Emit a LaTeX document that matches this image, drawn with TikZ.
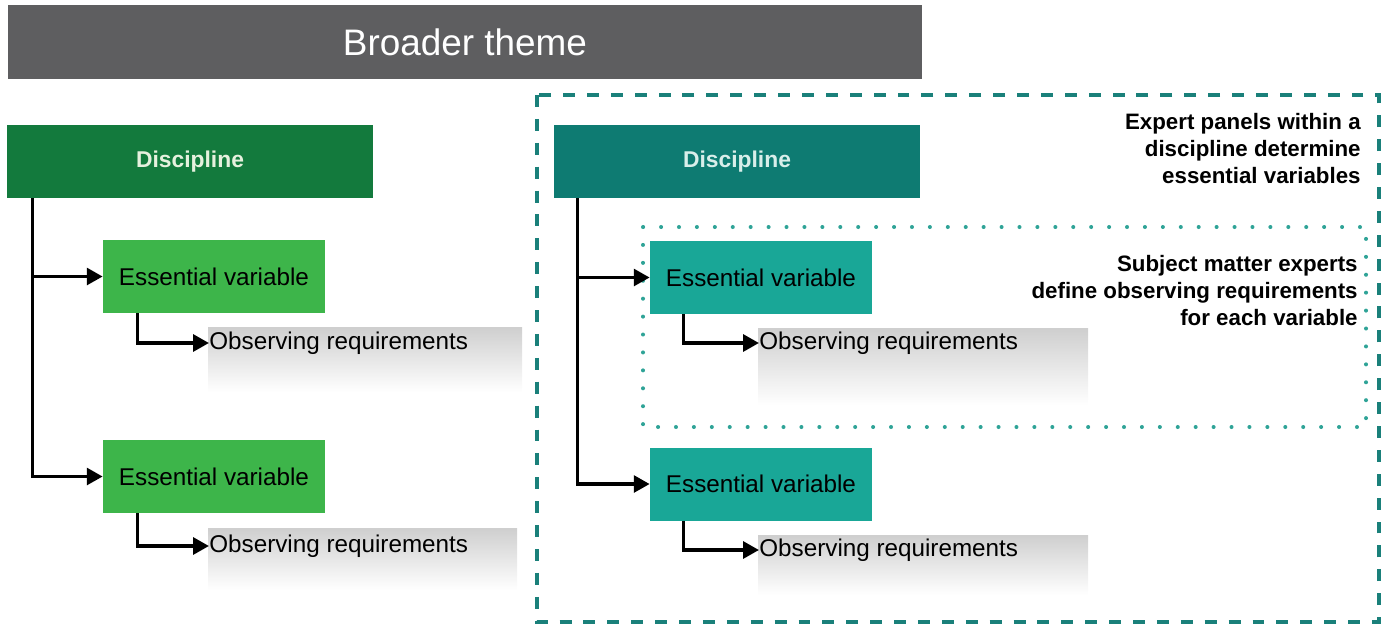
\documentclass[tikz,border=0pt]{standalone}
\usepackage{fontspec}
\setmainfont{Liberation Sans}
\usetikzlibrary{arrows.meta}
\definecolor{cinzatema}{HTML}{5E5E60}
\definecolor{verdeescuro}{HTML}{137A3D}
\definecolor{verdeclaro}{HTML}{3DB54A}
\definecolor{tealescuro}{HTML}{0E7B72}
\definecolor{tealclaro}{HTML}{19A797}
\definecolor{tracejado}{HTML}{1A807A}
\definecolor{pontilhado}{HTML}{2FA397}
\definecolor{textoverde}{HTML}{E6F1DE}
\definecolor{textoteal}{HTML}{D8EEEA}

\begin{document}
\begin{tikzpicture}[x=0.02cm,y=-0.02cm,
  caixa/.style={minimum height=1.46cm,inner sep=0pt},
  disc/.style={caixa,minimum width=7.32cm,font=\fontsize{13}{16}\selectfont\bfseries},
  var/.style={caixa,minimum width=4.44cm,text=black,font=\fontsize{13.8}{16}\selectfont},
  req/.style={anchor=west,inner sep=0pt,font=\fontsize{13.8}{16}\selectfont},
  seta/.style={line width=2pt,-{Triangle[length=9pt,width=9.5pt]}},
  nota/.style={anchor=north east,align=right,inner sep=0pt,font=\fontsize{12.7}{15.4}\selectfont\bfseries},
  sombra/.style={top color=black!19,bottom color=white}]
  \useasboundingbox (0,0) rectangle (1390,630);
%tema geral
  \node[fill=cinzatema,minimum width=18.28cm,minimum height=1.48cm,inner sep=0pt,
        text=white,font=\fontsize{21}{24}\selectfont] (tema) at (465,42) {Broader theme};
%sombras dos requisitos
  \shade[sombra] (208,327) rectangle (522,392);
  \shade[sombra] (208,528) rectangle (517,590);
  \shade[sombra] (758,328) rectangle (1088,405);
  \shade[sombra] (758,535) rectangle (1088,595);
%quadros dos especialistas
  \draw[tracejado,line width=2.8pt,dash pattern=on 6.8pt off 6.8pt] (537,95) rectangle (1379,622);
  \draw[pontilhado,line width=2.3pt,line cap=round,dash pattern=on 0pt off 10.2pt] (643,227) rectangle (1366,427);
%disciplina da esquerda
  \node[disc,fill=verdeescuro,text=textoverde] (discE) at (190,161.5) {Discipline};
  \node[var,fill=verdeclaro] (varE1) at (214,276.5) {Essential variable};
  \node[var,fill=verdeclaro] (varE2) at (214,476.5) {Essential variable};
  \node[req] (reqE1) at (209,343) {Observing requirements};
  \node[req] (reqE2) at (209,546) {Observing requirements};
  \draw[seta] ([xshift=0.52cm]discE.south west) |- (varE1.west);
  \draw[seta] ([xshift=0.52cm]discE.south west) |- (varE2.west);
  \draw[seta] ([xshift=0.70cm]varE1.south west) |- (reqE1.west);
  \draw[seta] ([xshift=0.70cm]varE2.south west) |- (reqE2.west);
%disciplina da direita
  \node[disc,fill=tealescuro,text=textoteal] (discD) at (737,161.5) {Discipline};
  \node[var,fill=tealclaro] (varD1) at (761,277.5) {Essential variable};
  \node[var,fill=tealclaro] (varD2) at (761,484) {Essential variable};
  \node[req] (reqD1) at (759,343) {Observing requirements};
  \node[req] (reqD2) at (759,550) {Observing requirements};
  \draw[seta] ([xshift=0.48cm]discD.south west) |- (varD1.west);
  \draw[seta] ([xshift=0.48cm]discD.south west) |- (varD2.west);
  \draw[seta] ([xshift=0.68cm]varD1.south west) |- (reqD1.west);
  \draw[seta] ([xshift=0.68cm]varD2.south west) |- (reqD2.west);
%rotulos
  \node[nota] (notaPainel) at (1361,113) {Expert panels within a\\discipline determine\\essential variables};
  \node[nota] (notaEspec) at (1358,255) {Subject matter experts\\define observing requirements\\for each variable};
\end{tikzpicture}
\end{document}
